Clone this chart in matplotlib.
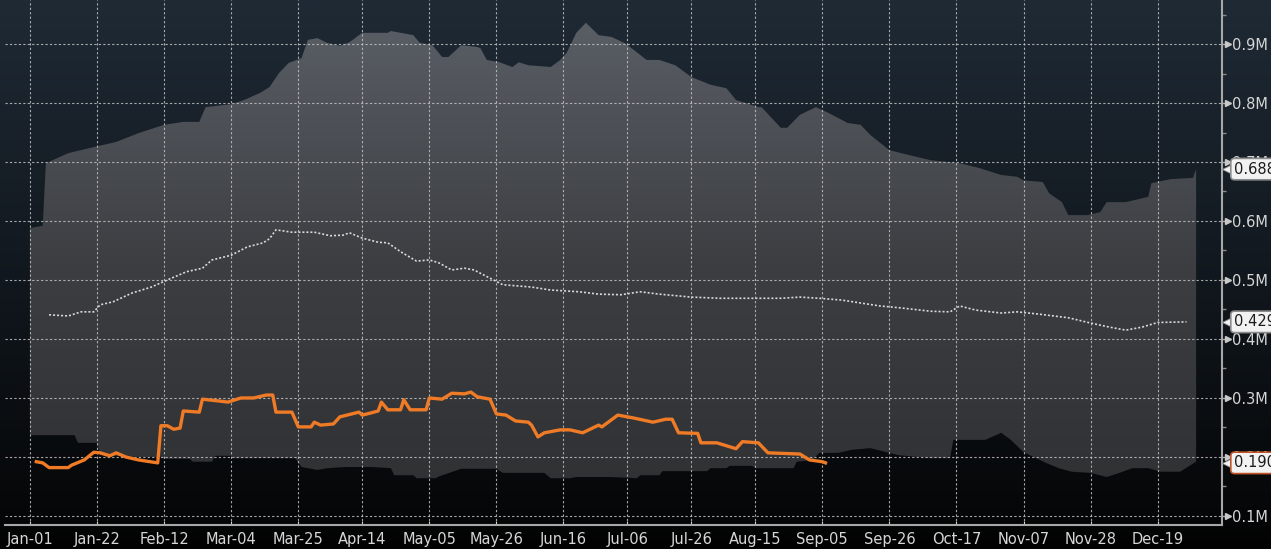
import numpy as np
import matplotlib.pyplot as plt
from matplotlib.colors import LinearSegmentedColormap
from matplotlib.transforms import blended_transform_factory

# x = days since Jan-01 (leap year), values in millions
tick_days = [0, 21, 42, 63, 84, 104, 125, 146, 167, 187, 207, 227, 248, 269, 290, 311, 332, 353]
tick_labels = ['Jan-01', 'Jan-22', 'Feb-12', 'Mar-04', 'Mar-25', 'Apr-14', 'May-05', 'May-26',
               'Jun-16', 'Jul-06', 'Jul-26', 'Aug-15', 'Sep-05', 'Sep-26', 'Oct-17', 'Nov-07',
               'Nov-28', 'Dec-19']

# range band, upper edge (max of past years)
max_days = [0, 4, 5, 12, 19, 27, 34, 42, 48, 53, 55, 63, 67, 72, 75, 78, 81, 85, 87, 90,
            93, 97, 100, 104, 112, 113, 120, 122, 126, 129, 131, 135, 140, 141, 143, 147, 151, 153, 156, 163,
            166, 168, 171, 174, 178, 182, 186, 189, 193, 197, 202, 207, 213, 218, 221, 224, 228, 229, 235, 237,
            241, 246, 250, 256, 260, 263, 269, 275, 282, 291, 297, 304, 309, 311, 317, 319, 323, 325, 331, 335,
            337, 343, 350, 351, 357, 364, 365]
max_vals = [0.588, 0.592, 0.698, 0.715, 0.724, 0.734, 0.749, 0.763, 0.768, 0.768,
            0.793, 0.798, 0.805, 0.817, 0.827, 0.851, 0.868, 0.876, 0.907, 0.910,
            0.902, 0.897, 0.903, 0.919, 0.919, 0.922, 0.915, 0.902, 0.898, 0.878,
            0.878, 0.898, 0.895, 0.893, 0.873, 0.869, 0.861, 0.869, 0.864, 0.861,
            0.873, 0.885, 0.919, 0.936, 0.915, 0.912, 0.902, 0.890, 0.873, 0.873,
            0.864, 0.844, 0.831, 0.825, 0.805, 0.800, 0.793, 0.793, 0.758, 0.758,
            0.780, 0.793, 0.783, 0.766, 0.763, 0.746, 0.720, 0.712, 0.703, 0.698,
            0.690, 0.678, 0.675, 0.669, 0.666, 0.647, 0.632, 0.610, 0.610, 0.615,
            0.632, 0.632, 0.641, 0.664, 0.671, 0.673, 0.688]

# range band, lower edge (min of past years)
min_days = [0, 14, 15, 21, 22, 34, 41, 42, 50, 51, 57, 58, 63, 64, 83, 85, 90, 93, 99, 107,
            113, 114, 120, 121, 127, 128, 135, 146, 148, 161, 163, 169, 171, 182, 190, 191, 197, 198, 212, 213,
            218, 219, 226, 227, 239, 240, 245, 247, 253, 257, 263, 272, 282, 288, 289, 299, 304, 307, 311, 315,
            318, 322, 326, 332, 337, 341, 345, 350, 354, 360, 365]
min_vals = [0.237, 0.237, 0.224, 0.224, 0.203, 0.200, 0.200, 0.197, 0.197, 0.192,
            0.192, 0.202, 0.202, 0.198, 0.198, 0.183, 0.178, 0.181, 0.183, 0.183,
            0.181, 0.169, 0.169, 0.164, 0.164, 0.167, 0.180, 0.180, 0.173, 0.173,
            0.164, 0.164, 0.166, 0.166, 0.164, 0.169, 0.169, 0.176, 0.176, 0.181,
            0.181, 0.185, 0.185, 0.181, 0.181, 0.192, 0.195, 0.207, 0.207, 0.212,
            0.215, 0.203, 0.198, 0.198, 0.229, 0.229, 0.241, 0.229, 0.208, 0.198,
            0.190, 0.181, 0.175, 0.173, 0.166, 0.173, 0.181, 0.181, 0.175, 0.175,
            0.192]

# average of past years (dotted white)
avg_days = [6, 12, 16, 20, 22, 26, 32, 38, 43, 49, 54, 57, 63, 68, 73, 75, 77, 82, 89, 94,
            98, 100, 104, 109, 112, 116, 121, 125, 128, 132, 136, 139, 144, 148, 157, 163, 172, 178, 185, 191,
            197, 207, 216, 225, 235, 241, 247, 254, 260, 266, 272, 282, 288, 291, 296, 304, 309, 316, 325, 332,
            338, 343, 348, 353, 362]
avg_vals = [0.441, 0.439, 0.446, 0.446, 0.458, 0.463, 0.478, 0.488, 0.500, 0.514,
            0.520, 0.534, 0.542, 0.556, 0.563, 0.570, 0.585, 0.581, 0.581, 0.575,
            0.576, 0.580, 0.571, 0.564, 0.563, 0.548, 0.532, 0.534, 0.529, 0.517,
            0.520, 0.517, 0.503, 0.492, 0.488, 0.483, 0.480, 0.476, 0.475, 0.480,
            0.476, 0.471, 0.469, 0.469, 0.469, 0.471, 0.469, 0.466, 0.461, 0.456,
            0.453, 0.447, 0.446, 0.456, 0.449, 0.444, 0.446, 0.442, 0.436, 0.427,
            0.420, 0.415, 0.420, 0.428, 0.429]

# current year (orange)
cur_days = [2, 4, 6, 12, 13, 17, 20, 22, 25, 27, 30, 34, 40, 41, 43, 45, 47, 48, 53, 54,
            59, 62, 66, 70, 74, 76, 77, 82, 84, 88, 89, 91, 95, 97, 103, 104, 107, 109, 110, 112,
            116, 117, 119, 124, 125, 129, 132, 136, 138, 140, 144, 146, 149, 152, 156, 157, 159, 161, 166, 169,
            173, 178, 179, 182, 184, 189, 195, 199, 201, 203, 209, 210, 215, 221, 223, 228, 231, 241, 244, 248,
            249]
cur_vals = [0.192, 0.190, 0.182, 0.182, 0.186, 0.195, 0.208, 0.207, 0.202, 0.207,
            0.200, 0.195, 0.190, 0.253, 0.253, 0.247, 0.249, 0.278, 0.276, 0.298,
            0.295, 0.293, 0.300, 0.300, 0.305, 0.305, 0.276, 0.276, 0.251, 0.251,
            0.259, 0.254, 0.256, 0.268, 0.276, 0.271, 0.275, 0.278, 0.293, 0.280,
            0.280, 0.297, 0.280, 0.280, 0.300, 0.298, 0.308, 0.307, 0.310, 0.302,
            0.298, 0.273, 0.271, 0.261, 0.259, 0.254, 0.234, 0.241, 0.246, 0.246,
            0.241, 0.254, 0.251, 0.263, 0.271, 0.266, 0.259, 0.264, 0.264, 0.241,
            0.240, 0.224, 0.224, 0.214, 0.226, 0.224, 0.207, 0.205, 0.195, 0.192,
            0.190]

y_ticks = [0.1, 0.2, 0.3, 0.4, 0.5, 0.6, 0.7, 0.8, 0.9]
last_tags = [0.688, 0.429, 0.190]

W, H = 1271, 549
fig = plt.figure(figsize=(W / 100, H / 100), dpi=100)
fig.patch.set_facecolor('black')

# dark gradient background over whole figure
bg = fig.add_axes([0, 0, 1, 1])
bg.set_axis_off()
bg_cmap = LinearSegmentedColormap.from_list(
    'bg', [(0, '#020202'), (0.05, '#050607'), (0.35, '#0d1217'), (1, '#1f2a35')])
bg.imshow(np.linspace(0, 1, 256).reshape(-1, 1), cmap=bg_cmap, aspect='auto',
          origin='lower', extent=[0, 1, 0, 1])
bg.set_xlim(0, 1)
bg.set_ylim(0, 1)

ax = fig.add_axes([5 / W, 24 / H, 1217 / W, 525 / H])
ax.set_facecolor('none')
xmin, xmax = -7.8, 373.1
ymin, ymax = 0.0847, 0.9746
ax.set_xlim(xmin, xmax)
ax.set_ylim(ymin, ymax)

# band with vertical gradient
xs = np.concatenate([max_days, min_days[::-1]])
ys = np.concatenate([max_vals, min_vals[::-1]])
poly = ax.fill(xs, ys, facecolor='none', edgecolor='none')[0]
band_cmap = LinearSegmentedColormap.from_list('band', ['#2e2f31', '#3c3e42', '#5c6168'])
im = ax.imshow(np.linspace(0, 1, 256).reshape(-1, 1), cmap=band_cmap, aspect='auto',
               origin='lower', extent=[xmin, xmax, ymin, ymax], zorder=1)
im.set_clip_path(poly)

ax.plot(avg_days, avg_vals, color='#dadada', lw=1.2, ls=(0, (1.2, 1.2)), zorder=3)
ax.plot(cur_days, cur_vals, color='#f07b27', lw=2.4, zorder=4)

ax.grid(True, color='#c4c4c4', ls=(0, (2, 2)), lw=0.8, alpha=0.85)
ax.set_axisbelow('line')

for s in ['left', 'top']:
    ax.spines[s].set_visible(False)
for s in ['bottom', 'right']:
    ax.spines[s].set_color('#a8a8a8')
    ax.spines[s].set_linewidth(1.5)

ax.set_xticks(tick_days)
ax.set_xticklabels(tick_labels)
ax.tick_params(axis='x', direction='in', length=3, color='#d0d0d0',
               labelcolor='#d6d6d6', labelsize=10.5, pad=5)

ax.yaxis.tick_right()
ax.set_yticks(y_ticks)
ax.set_yticklabels([f'{v:.1f}M' for v in y_ticks])
ax.set_yticks(np.arange(0.15, 0.96, 0.1), minor=True)
ax.tick_params(axis='y', which='major', direction='out', length=4, width=1,
               color='#b0b0b0', labelcolor='#d6d6d6', labelsize=10.5, pad=3)
ax.tick_params(axis='y', which='minor', direction='out', length=3, width=1, color='#8a8a8a')

trans = blended_transform_factory(ax.transAxes, ax.transData)
ax.plot([1 + 6 / 1217] * len(y_ticks), y_ticks, ls='none', marker='>', ms=4,
        color='#c8c8c8', transform=trans, clip_on=False, zorder=5)

# last-value tags
tag_edges = ['#8c8c8c', '#8c8c8c', '#c0552b']
for v, ec in zip(last_tags, tag_edges):
    ax.text(1 + 12 / 1217, v, f'{v:.3f}M', transform=trans, ha='left', va='center',
            fontsize=10.5, color='#1c1c1c', clip_on=False, zorder=10,
            bbox=dict(boxstyle='round,pad=0.22,rounding_size=0.25', fc='#f2f2f2', ec=ec, lw=1.2))
    ax.plot(1 + 6 / 1217, v, marker='<', ms=9, color='#f2f2f2', mec='#8c8c8c', mew=0.6,
            transform=trans, clip_on=False, zorder=9)

fig.savefig('out.png', dpi=100, facecolor=fig.get_facecolor())
